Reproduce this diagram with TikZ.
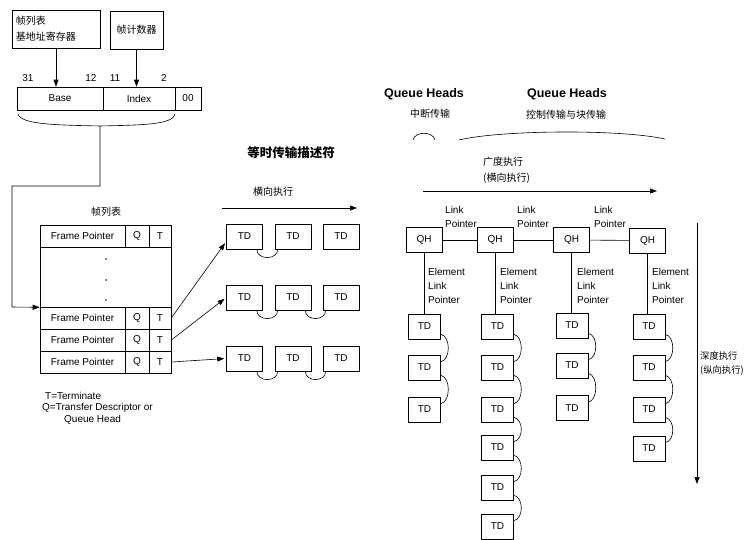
\documentclass[tikz,border=0pt]{standalone}
\usepackage{fontspec}
\setmainfont{Liberation Sans}
\newfontfamily\cjk{Noto Sans CJK SC}
\usetikzlibrary{arrows.meta}
\begin{document}
\begin{tikzpicture}[x=1pt,y=-1pt,
  ln/.style={line width=0.6pt},
  bx/.style={draw, ln, inner sep=0pt, font=\fontsize{10}{12}\selectfont},
  td/.style={bx, minimum width=36pt, minimum height=25pt},
  tdr/.style={bx, minimum width=32pt, minimum height=25pt},
  cell/.style={bx, minimum height=22pt},
  arr/.style={ln, -{Triangle[length=7pt,width=5pt]}},
  lbl/.style={inner sep=0pt, font=\fontsize{10}{14}\selectfont},
  clbl/.style={inner sep=0pt, font=\cjk\fontsize{10}{16}\selectfont},
  qhh/.style={inner sep=0pt, font=\bfseries\fontsize{12.5}{14}\selectfont}]
\useasboundingbox (0,0) rectangle (746,539);

% ---------- top-left registers ----------
\node[bx, minimum width=88pt, minimum height=38pt, text width=80pt, align=left,
      font=\cjk\fontsize{10}{16}\selectfont] (fb) at (56,29) {帧列表\\基地址寄存器};
\node[bx, minimum width=53pt, minimum height=38pt, font=\cjk\fontsize{10}{12}\selectfont] (fc) at (136.5,30) {帧计数器};

\node[lbl] (n31) at (28,78) {31};
\node[lbl] (n12) at (91,78) {12};
\node[lbl] (n11) at (115,78) {11};
\node[lbl] (n2) at (164,78) {2};

\node[cell, minimum width=86pt, minimum height=23pt] (base) at (60,98.5) {Base};
\node[cell, minimum width=72pt, minimum height=23pt] (idx) at (139,98.5) {Index};
\node[cell, minimum width=26pt, minimum height=23pt] (zz) at (188,98.5) {00};

\draw[arr] (fb.south) -- (fb.south |- base.north);
\draw[arr] (fc.south) -- (fc.south |- idx.north);

\coordinate (bc) at (100,126);
\draw[ln] (18,114) .. controls (21,125) and (60,125) .. (bc) .. controls (140,125) and (173,125) .. (175,114);

% ---------- frame list ----------
\node[clbl] (fltitle) at (106,212) {帧列表};
\node[cell, minimum width=85pt] (fp1) at (82.5,236) {Frame Pointer};
\node[cell, minimum width=24pt] (q1) at (137,236) {Q};
\node[cell, minimum width=22pt] (t1) at (160,236) {T};
\node[bx, minimum width=131pt, minimum height=60pt] (blank) at (105.5,277) {};
\fill (106,259) circle (0.8pt) (106,280) circle (0.8pt) (106,300) circle (0.8pt);
\foreach \r/\y in {2/318,3/340,4/362}{
  \node[cell, minimum width=85pt] (fp\r) at (82.5,\y) {Frame Pointer};
  \node[cell, minimum width=24pt] (q\r) at (137,\y) {Q};
  \node[cell, minimum width=22pt] (t\r) at (160,\y) {T};
}
\draw[arr] (bc) -- (100,186) -- (12,186) -- (12,307) -- (blank.south west);

\node[lbl, anchor=west] (leg1) at (45,396) {T=Terminate};
\node[lbl, anchor=west] (leg2) at (42,408) {Q=Transfer Descriptor or};
\node[lbl, anchor=west] (leg3) at (64,420) {Queue Head};

% ---------- isochronous TDs ----------
\node[inner sep=0pt, font=\cjk\bfseries\fontsize{12.5}{14}\selectfont] (isot) at (291,153) {等时传输描述符};
\node[clbl] (hx) at (273,192) {横向执行};
\coordinate (ha1) at (222,208);
\coordinate (ha2) at (357,208);
\draw[arr] (ha1) -- (ha2);

\foreach \r/\y in {1/236.5,2/297.5,3/358.5}{
  \foreach \c/\x in {1/244.5,2/293,3/341}{
    \node[td] (m\r\c) at (\x,\y) {TD};
  }
}
\draw[ln] ([xshift=-6pt]m11.south east) .. controls +(0,-11pt) and +(0,-11pt) .. ([xshift=3pt]m12.south west);
\foreach \r in {2,3}{
  \draw[ln] ([xshift=-6pt]m\r1.south east) .. controls +(0,-11pt) and +(0,-11pt) .. ([xshift=3pt]m\r2.south west);
  \draw[ln] ([xshift=-6pt]m\r2.south east) .. controls +(0,-11pt) and +(0,-11pt) .. ([xshift=3pt]m\r3.south west);
}
\draw[arr, shorten >=2pt] (t2.east) -- ([yshift=-5pt]m11.west);
\draw[arr, shorten >=2pt] (t3.east) -- (m21.west);
\draw[arr, shorten >=2pt] (t4.east) -- (m31.west);

% ---------- queue heads ----------
\node[qhh] (qht1) at (424,94) {Queue Heads};
\node[clbl] (qhs1) at (430,114) {中断传输};
\node[qhh] (qht2) at (567,94) {Queue Heads};
\node[clbl] (qhs2) at (566,115) {控制传输与块传输};
\draw[ln] (413,140) .. controls (415,131) and (433,131) .. (435,140);
\draw[ln] (459,140) .. controls (500,130) and (620,129) .. (665,139);

\node[clbl, anchor=west, align=left] (gd) at (483,170) {广度执行\\(横向执行)};
\coordinate (ga1) at (423,191);
\coordinate (ga2) at (657,191);
\draw[arr] (ga1) -- (ga2);

\node[td] (qh1) at (424,240) {QH};
\node[td] (qh2) at (495,240) {QH};
\node[td] (qh3) at (571.5,240) {QH};
\node[td] (qh4) at (647.5,240.5) {QH};
\draw[ln] (qh1) -- (qh2);
\draw[ln] (qh2) -- (qh3);
\draw[ln] (qh3) -- (qh4);
\node[lbl, anchor=west, align=left] (lp1) at (445,217) {Link\\Pointer};
\node[lbl, anchor=west, align=left] (lp2) at (517,217) {Link\\Pointer};
\node[lbl, anchor=west, align=left] (lp3) at (594,217) {Link\\Pointer};

\foreach \c/\x in {1/428,2/500,3/577,4/652}{
  \node[lbl, anchor=west, align=left] (el\c) at (\x,286) {Element\\Link\\Pointer};
}

% columns of TDs
\foreach \i/\y in {1/326.5,2/367.5,3/409.5}{ \node[tdr] (a\i) at (424.5,\y) {TD}; }
\foreach \i/\y in {1/326.5,2/367.5,3/409.5,4/447.5,5/487.5,6/526.5}{ \node[tdr] (b\i) at (497.5,\y) {TD}; }
\foreach \i/\y in {1/325.5,2/365.5,3/408}{ \node[tdr] (c\i) at (572,\y) {TD}; }
\foreach \i/\y in {1/326.5,2/367.5,3/409.5,4/448.5}{ \node[tdr] (d\i) at (649,\y) {TD}; }

\draw[ln] (qh1.south) -- (qh1.south |- a1.north);
\draw[ln] (qh2.south) -- (qh2.south |- b1.north);
\draw[ln] (qh3.south) -- (qh3.south |- c1.north);
\draw[ln] (qh4.south) -- (qh4.south |- d1.north);

\foreach \p/\n in {a1/a2,a2/a3,b1/b2,b2/b3,b3/b4,b4/b5,b5/b6,c1/c2,c2/c3,d1/d2,d2/d3,d3/d4}{
  \draw[ln] ([yshift=5pt]\p.south east) .. controls +(10pt,-2pt) and +(10pt,2pt) .. ([yshift=-7pt]\n.north east);
}

\coordinate (va1) at (697,223);
\coordinate (va2) at (697,484);
\draw[arr] (va1) -- (va2);
\node[inner sep=0pt, anchor=west, align=left, font=\cjk\fontsize{9.3}{14}\selectfont] (sd) at (700,363) {深度执行\\(纵向执行)};
\end{tikzpicture}
\end{document}
